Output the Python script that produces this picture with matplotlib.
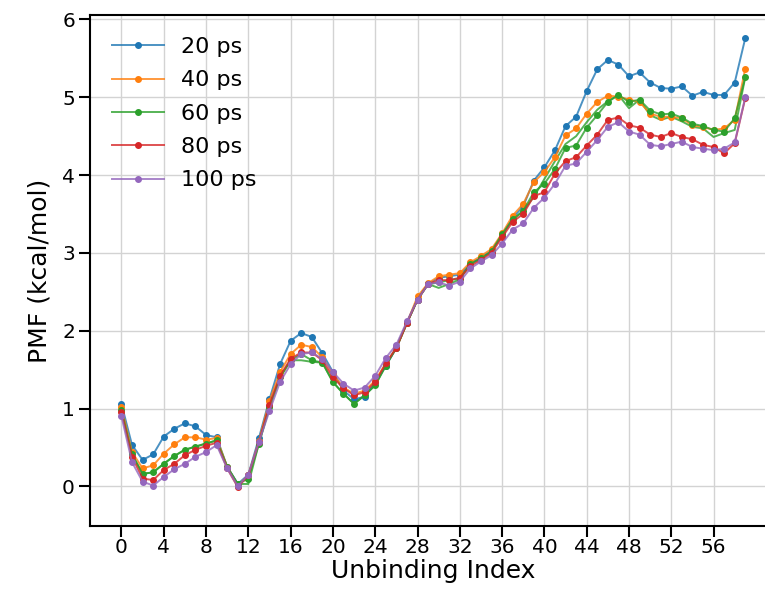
import numpy as np
import matplotlib
matplotlib.use("Agg")
import matplotlib.pyplot as plt
from matplotlib.colors import to_rgba

# PMF profiles along the unbinding coordinate, one per simulation length
labels = ['20 ps', '40 ps', '60 ps', '80 ps', '100 ps']
colors = ['#1f77b4', '#ff7f0e', '#2ca02c', '#d62728', '#9467bd']

pmf_20 = [1.06, 0.53, 0.34, 0.41, 0.64, 0.74, 0.81, 0.77, 0.66, 0.63,
          0.25, 0.03, 0.15, 0.62, 1.12, 1.57, 1.87, 1.97, 1.92, 1.71,
          1.47, 1.23, 1.12, 1.15, 1.34, 1.55, 1.78, 2.10, 2.40, 2.60,
          2.68, 2.70, 2.72, 2.86, 2.94, 3.03, 3.22, 3.45, 3.60, 3.93,
          4.10, 4.32, 4.63, 4.75, 5.08, 5.36, 5.48, 5.42, 5.27, 5.32,
          5.19, 5.12, 5.11, 5.14, 5.02, 5.07, 5.03, 5.03, 5.19, 5.76]
pmf_40 = [1.02, 0.44, 0.23, 0.27, 0.42, 0.54, 0.63, 0.63, 0.60, 0.62,
          0.25, 0.01, 0.14, 0.58, 1.10, 1.47, 1.70, 1.82, 1.79, 1.66,
          1.44, 1.27, 1.19, 1.23, 1.36, 1.58, 1.78, 2.10, 2.44, 2.61,
          2.70, 2.72, 2.74, 2.88, 2.96, 3.05, 3.25, 3.48, 3.63, 3.91,
          4.04, 4.23, 4.51, 4.60, 4.79, 4.94, 5.02, 5.01, 4.97, 4.94,
          4.79, 4.75, 4.75, 4.73, 4.64, 4.62, 4.58, 4.60, 4.71, 5.37]
pmf_60 = [0.98, 0.41, 0.16, 0.18, 0.29, 0.39, 0.47, 0.51, 0.55, 0.59,
          0.25, 0.03, 0.10, 0.55, 1.02, 1.40, 1.62, 1.70, 1.62, 1.59,
          1.34, 1.19, 1.06, 1.17, 1.30, 1.55, 1.78, 2.10, 2.40, 2.60,
          2.62, 2.65, 2.67, 2.86, 2.93, 3.02, 3.24, 3.43, 3.54, 3.78,
          3.89, 4.08, 4.35, 4.38, 4.61, 4.77, 4.94, 5.03, 4.94, 4.97,
          4.83, 4.78, 4.79, 4.74, 4.66, 4.63, 4.58, 4.56, 4.73, 5.26]
pmf_80 = [0.95, 0.38, 0.10, 0.08, 0.21, 0.29, 0.40, 0.47, 0.52, 0.56,
          0.23, -0.01, 0.14, 0.57, 1.05, 1.42, 1.64, 1.72, 1.72, 1.62,
          1.40, 1.26, 1.17, 1.21, 1.34, 1.58, 1.78, 2.10, 2.40, 2.60,
          2.65, 2.65, 2.68, 2.83, 2.91, 3.00, 3.20, 3.40, 3.50, 3.73,
          3.78, 4.02, 4.18, 4.23, 4.38, 4.52, 4.71, 4.74, 4.64, 4.61,
          4.52, 4.49, 4.54, 4.49, 4.46, 4.39, 4.36, 4.28, 4.41, 4.99]
pmf_100 = [0.90, 0.31, 0.06, 0.01, 0.12, 0.22, 0.29, 0.38, 0.44, 0.53,
           0.23, 0.00, 0.15, 0.57, 0.97, 1.34, 1.57, 1.70, 1.72, 1.64,
           1.47, 1.32, 1.23, 1.27, 1.42, 1.65, 1.82, 2.12, 2.40, 2.60,
           2.62, 2.58, 2.63, 2.80, 2.89, 2.97, 3.12, 3.30, 3.38, 3.58,
           3.71, 3.89, 4.12, 4.15, 4.30, 4.45, 4.62, 4.68, 4.56, 4.52,
           4.39, 4.37, 4.40, 4.43, 4.36, 4.34, 4.32, 4.34, 4.42, 5.00]
# second 60 ps run (line only)
pmf_60b = [0.98, 0.41, 0.16, 0.18, 0.29, 0.39, 0.47, 0.51, 0.55, 0.59,
           0.25, 0.03, 0.03, 0.55, 1.02, 1.40, 1.62, 1.62, 1.60, 1.59,
           1.34, 1.19, 1.06, 1.17, 1.30, 1.55, 1.78, 2.10, 2.40, 2.60,
           2.55, 2.60, 2.66, 2.86, 2.93, 3.02, 3.24, 3.43, 3.54, 3.72,
           3.95, 4.18, 4.40, 4.50, 4.68, 4.84, 4.95, 5.03, 4.86, 4.97,
           4.77, 4.71, 4.75, 4.69, 4.62, 4.60, 4.49, 4.54, 4.58, 5.26]

series = [pmf_20, pmf_40, pmf_60, pmf_80, pmf_100]
idx = np.arange(len(pmf_20))

fig = plt.figure(figsize=(7.65, 5.93), dpi=100)
ax = fig.add_axes([0.118, 0.113, 0.897, 0.862])

ax.plot(idx, pmf_60b, '-', color=to_rgba(colors[2], 0.8), lw=1.4, zorder=2)
for y, lab, c in zip(series, labels, colors):
    ax.plot(idx, y, '-o', color=to_rgba(c, 0.8), lw=1.4, ms=4,
            mfc=c, mec=c, label=lab, zorder=3)

ax.set_xlim(-2.95, 61.95)
ax.set_ylim(-0.51, 6.06)
ax.set_xticks(range(0, 57, 4))
ax.set_yticks(range(0, 7))
ax.grid(True, color='#d3d3d3', lw=1)
ax.set_axisbelow(True)
ax.tick_params(labelsize=14.5, length=8, width=1.5, pad=3)
ax.tick_params(axis='x', pad=1)
for s in ax.spines.values():
    s.set_linewidth(1.5)
ax.set_xlabel('Unbinding Index', fontsize=18, labelpad=1)
ax.set_ylabel('PMF (kcal/mol)', fontsize=18, labelpad=8)
ax.legend(loc='upper left', frameon=False, fontsize=16, handlelength=2.3,
          labelspacing=0.6, borderaxespad=0.6, bbox_to_anchor=(0.0, 1.0))

fig.savefig('out.png', dpi=100)
